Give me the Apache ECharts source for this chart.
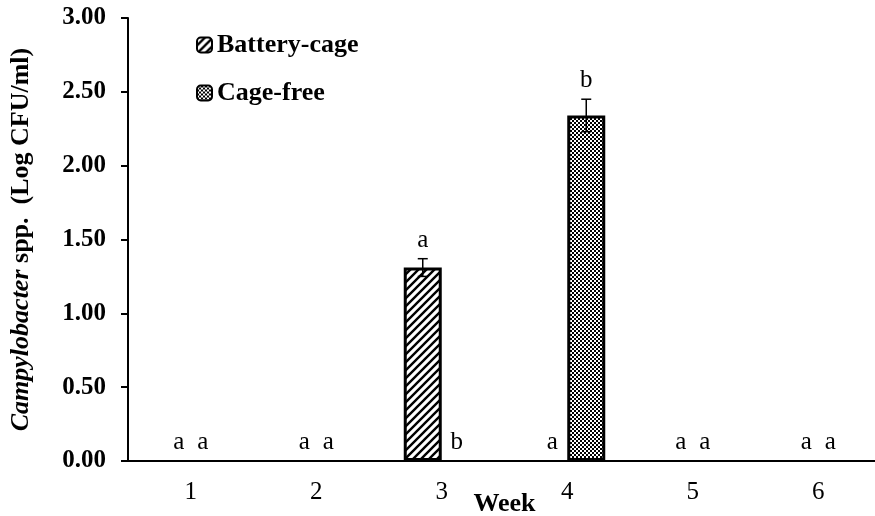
<!DOCTYPE html>
<html>
<head>
<meta charset="utf-8">
<script src="https://cdn.jsdelivr.net/npm/echarts@6/dist/echarts.min.js"></script>
<style>html,body{margin:0;padding:0;background:#fff}#c{width:875px;height:516px}</style>
</head>
<body>
<div id="c"></div>
<script>
var weeks = ['1', '2', '3', '4', '5', '6'];
var batteryCage = [0, 0, 1.31, 0, 0, 0];
var batteryErr = [0, 0, 0.06, 0, 0, 0];
var batteryLetters = ['a', 'a', 'a', 'a', 'a', 'a'];
var cageFree = [0, 0, 0, 2.34, 0, 0];
var cageFreeErr = [0, 0, 0, 0.11, 0, 0];
var cageFreeLetters = ['a', 'a', 'b', 'b', 'a', 'a'];

var FONT = '"Liberation Serif", "Times New Roman", serif';
var BAR_W = 38;

function hatchPattern() {
  var c = document.createElement('canvas');
  c.width = 8; c.height = 8;
  var g = c.getContext('2d');
  g.fillStyle = '#fff'; g.fillRect(0, 0, 8, 8);
  g.strokeStyle = '#000'; g.lineWidth = 2.4;
  g.beginPath();
  g.moveTo(0, 8); g.lineTo(8, 0);
  g.moveTo(-2, 2); g.lineTo(2, -2);
  g.moveTo(6, 10); g.lineTo(10, 6);
  g.stroke();
  return c;
}
function checkerPattern() {
  var c = document.createElement('canvas');
  c.width = 4; c.height = 4;
  var g = c.getContext('2d');
  g.fillStyle = '#fff'; g.fillRect(0, 0, 4, 4);
  g.fillStyle = '#000';
  g.fillRect(0, 0, 2, 2); g.fillRect(2, 2, 2, 2);
  return c;
}

function barData(values) {
  return values.map(function (v) {
    return v > 0 ? v : {value: v, itemStyle: {borderWidth: 0}};
  });
}

var errData = [];
weeks.forEach(function (w, i) {
  errData.push([i, -1, batteryCage[i], batteryErr[i], batteryLetters[i], cageFree[i]]);
  errData.push([i, 1, cageFree[i], cageFreeErr[i], cageFreeLetters[i], batteryCage[i]]);
});

var chart = echarts.init(document.getElementById('c'), null, {renderer: 'canvas'});
chart.setOption({
  animation: false,
  backgroundColor: '#fff',
  grid: {left: 128, right: -6, top: 18, bottom: 55, containLabel: false, outerBoundsMode: 'none'},
  legend: {
    left: 191, top: 27, orient: 'vertical', itemGap: 22,
    itemWidth: 15, itemHeight: 15,
    data: ['Battery-cage', 'Cage-free'],
    textStyle: {fontFamily: FONT, fontWeight: 'bold', fontSize: 26, color: '#000', padding: [0, 0, 0, 0]}
  },
  xAxis: {
    type: 'category', data: weeks,
    name: 'Week', nameLocation: 'middle', nameGap: 43, nameMoveOverlap: false,
    nameTextStyle: {fontFamily: FONT, fontWeight: 'bold', fontSize: 26, color: '#000', verticalAlign: 'middle'},
    axisLine: {lineStyle: {color: '#000', width: 2}},
    axisTick: {alignWithLabel: true, length: 7, lineStyle: {color: '#000', width: 2}},
    axisLabel: {fontFamily: FONT, fontSize: 25, color: '#000', margin: 19}
  },
  yAxis: {
    type: 'value', min: 0, max: 3, interval: 0.5,
    name: '{i|Campylobacter}{b| spp.  (Log CFU/ml)}',
    nameLocation: 'middle', nameGap: 107, nameRotate: 90, nameMoveOverlap: false,
    nameTextStyle: {
      align: 'center', verticalAlign: 'middle',
      rich: {
        i: {fontFamily: FONT, fontWeight: 'bold', fontStyle: 'italic', fontSize: 26, color: '#000'},
        b: {fontFamily: FONT, fontWeight: 'bold', fontSize: 26, color: '#000'}
      }
    },
    axisLine: {show: true, lineStyle: {color: '#000', width: 2}},
    axisTick: {show: true, length: 7, lineStyle: {color: '#000', width: 2}},
    splitLine: {show: false},
    axisLabel: {
      fontFamily: FONT, fontWeight: 'bold', fontSize: 25, color: '#000', margin: 22,
      formatter: function (v) { return v.toFixed(2); }
    }
  },
  series: [
    {
      name: 'Battery-cage', type: 'bar', data: barData(batteryCage),
      barWidth: BAR_W, barGap: '0%',
      itemStyle: {color: {image: hatchPattern(), repeat: 'repeat'}, borderColor: '#000', borderWidth: 3}
    },
    {
      name: 'Cage-free', type: 'bar', data: barData(cageFree),
      barWidth: BAR_W, barGap: '0%',
      itemStyle: {color: {image: checkerPattern(), repeat: 'repeat'}, borderColor: '#000', borderWidth: 3}
    },
    {
      type: 'custom', z: 10, data: errData,
      renderItem: function (params, api) {
        var idx = api.value(0), side = api.value(1), v = api.value(2), e = api.value(3);
        var letter = errData[params.dataIndex][4];
        var other = api.value(5);
        var base = api.coord([idx, v]);
        var off;
        if (v > 0) off = BAR_W / 2;
        else if (other > 0) off = 15;
        else off = 12;
        var x = base[0] + side * off;
        var children = [];
        var topY = api.coord([idx, v + e])[1];
        if (e > 0) {
          var botY = api.coord([idx, v - e])[1];
          var xc = base[0] + side * BAR_W / 2;
          var st = {stroke: '#000', lineWidth: 1.5};
          children.push({type: 'line', shape: {x1: xc, y1: botY, x2: xc, y2: topY}, style: st});
          children.push({type: 'line', shape: {x1: xc - 5, y1: topY, x2: xc + 5, y2: topY}, style: st});
          children.push({type: 'line', shape: {x1: xc - 5, y1: botY, x2: xc + 5, y2: botY}, style: st});
          x = xc;
        }
        children.push({
          type: 'text',
          style: {
            text: letter, x: x, y: topY - 6,
            textAlign: 'center', textVerticalAlign: 'bottom',
            font: '25px ' + FONT, fill: '#000'
          }
        });
        return {type: 'group', children: children};
      }
    }
  ]
});
</script>
</body>
</html>
